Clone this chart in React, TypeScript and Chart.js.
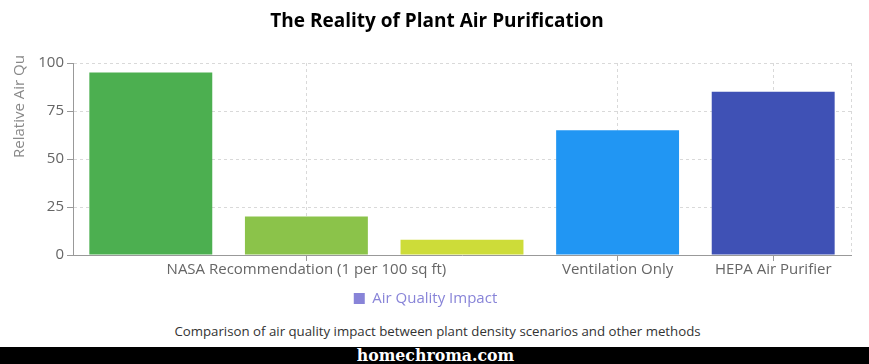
import React, { useEffect, useRef } from "react";
import { Chart, registerables } from "chart.js";

Chart.register(...registerables);

// ---- data ----
const categories = [
  "NASA Sealed Chamber Study",
  "NASA Recommendation (1 per 100 sq ft)",
  "Typical Home (3-5 plants)",
  "Ventilation Only",
  "HEPA Air Purifier",
];
const impactValues = [95, 20, 8, 65, 85];
const barColors = ["#4CAF50", "#8BC34A", "#CDDC39", "#2196F3", "#3F51B5"];
const shownTickIndices = [1, 3, 4];
const yTickValues = [0, 25, 50, 75, 100];
const seriesName = "Air Quality Impact";
const legendColor = "#8884d8";
const chartTitle = "The Reality of Plant Air Purification";
const yAxisTitle = "Relative Air Quality";
const caption =
  "Comparison of air quality impact between plant density scenarios and other methods";
const watermark = "homechroma.com";

const FONT = '"Open Sans", "Noto Sans", sans-serif';

const extrasPlugin = {
  id: "extras",
  afterLayout(chart: any) {
    const t = chart.titleBlock;
    if (t) {
      t.left += 11.5;
      t.right += 11.5;
    }
  },
  beforeDatasetsDraw(chart: any) {
    const { ctx, chartArea } = chart;
    ctx.save();
    ctx.strokeStyle = "#d9d9d9";
    ctx.lineWidth = 1;
    ctx.setLineDash([3, 3]);
    ctx.beginPath();
    ctx.moveTo(Math.round(chartArea.right) + 0.5, chartArea.top);
    ctx.lineTo(Math.round(chartArea.right) + 0.5, chartArea.bottom);
    ctx.stroke();
    ctx.restore();
  },
  afterDraw(chart: any) {
    const { ctx } = chart;
    ctx.save();
    ctx.beginPath();
    ctx.rect(0, 56, 60, 300);
    ctx.clip();
    ctx.translate(20, 158);
    ctx.rotate(-Math.PI / 2);
    ctx.font = `15px ${FONT}`;
    ctx.fillStyle = "#888";
    ctx.textAlign = "left";
    ctx.textBaseline = "middle";
    ctx.fillText(yAxisTitle, 0, 0);
    ctx.restore();
  },
};

export default function App() {
  const canvasRef = useRef<HTMLCanvasElement | null>(null);

  useEffect(() => {
    if (!canvasRef.current) return;
    const chart = new Chart(canvasRef.current, {
      type: "bar",
      data: {
        labels: categories,
        datasets: [
          {
            label: seriesName,
            data: impactValues,
            backgroundColor: barColors,
            borderWidth: 0,
            categoryPercentage: 1,
            barPercentage: 0.79,
          },
        ],
      },
      options: {
        animation: false,
        responsive: true,
        maintainAspectRatio: false,
        layout: { padding: { left: 0, right: 18, top: 0, bottom: 6 } },
        plugins: {
          title: {
            display: true,
            text: chartTitle,
            color: "#000",
            font: { family: FONT, size: 19, weight: "bold" },
            padding: { top: 10, bottom: 30.2 },
          },
          legend: {
            display: true,
            position: "bottom",
            labels: {
              color: legendColor,
              font: { family: FONT, size: 15 },
              boxWidth: 11,
              boxHeight: 11,
              padding: 10,
              generateLabels: () => [
                {
                  text: seriesName,
                  fillStyle: legendColor,
                  strokeStyle: legendColor,
                  lineWidth: 0,
                  hidden: false,
                  datasetIndex: 0,
                  fontColor: legendColor,
                },
              ],
            },
          },
          tooltip: { enabled: false },
        },
        scales: {
          x: {
            afterFit: (s: any) => {
              s.height += 2;
            },
            grid: {
              offset: false,
              color: (c: any) =>
                shownTickIndices.includes(c.index) ? "#d9d9d9" : "rgba(0,0,0,0)",
              tickColor: (c: any) =>
                shownTickIndices.includes(c.index) ? "#999" : "rgba(0,0,0,0)",
              tickLength: 6,
              drawTicks: true,
            },
            border: { display: true, color: "#999", width: 1, dash: [3, 3] },
            ticks: {
              autoSkip: false,
              maxRotation: 0,
              padding: 0,
              color: "#666",
              font: { family: FONT, size: 15 },
              callback: (_v: any, i: number) =>
                shownTickIndices.includes(i) ? categories[i] : "",
            },
          },
          y: {
            min: 0,
            max: 100,
            afterFit: (s: any) => {
              s.width = 73;
            },
            afterBuildTicks: (s: any) => {
              s.ticks = yTickValues.map((v) => ({ value: v }));
            },
            grid: {
              color: "#d9d9d9",
              tickColor: "#999",
              tickLength: 6,
            },
            border: { display: true, color: "#999", width: 1, dash: [3, 3] },
            ticks: {
              padding: 3,
              color: "#666",
              font: { family: FONT, size: 15 },
            },
          },
        },
      },
      plugins: [extrasPlugin],
    });
    return () => chart.destroy();
  }, []);

  return (
    <div
      style={{
        position: "fixed",
        left: 0,
        top: 0,
        width: 869,
        height: 364,
        background: "#fff",
        fontFamily: FONT,
        overflow: "hidden",
      }}
    >
      <div style={{ position: "absolute", left: 0, top: 0, width: 869, height: 322 }}>
        <canvas ref={canvasRef} />
      </div>
      <div
        style={{
          position: "absolute",
          left: 3,
          top: 322,
          width: 869,
          height: 18,
          lineHeight: "18px",
          fontSize: 13.25,
          color: "#333",
          textAlign: "center",
          whiteSpace: "nowrap",
        }}
      >
        {caption}
      </div>
      <div
        style={{
          position: "absolute",
          left: 0,
          top: 347,
          width: 869,
          height: 17,
          background: "#000",
          color: "#fff",
          textAlign: "center",
          fontFamily: '"DejaVu Serif Condensed", "DejaVu Serif", serif',
          fontStretch: "condensed",
          fontWeight: "bold",
          fontSize: 17.5,
          lineHeight: "17px",
          overflow: "hidden",
          whiteSpace: "nowrap",
        }}
      >
        <span style={{ position: "relative", left: 1 }}>{watermark}</span>
      </div>
    </div>
  );
}
